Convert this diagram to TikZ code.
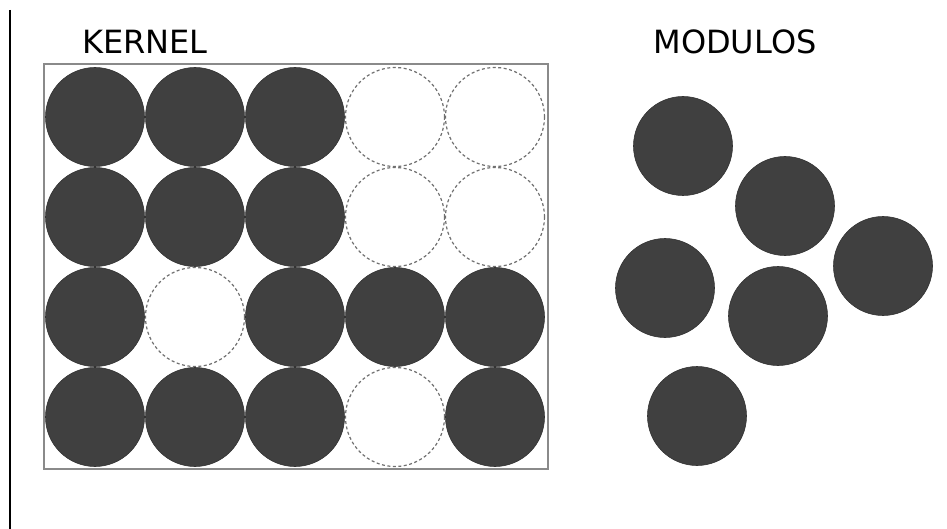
\documentclass[tikz,border=0pt]{standalone}
\usepackage{fontspec}
\setmainfont{DejaVu Sans}
\definecolor{balldark}{HTML}{404040}
\definecolor{framegray}{HTML}{8A8A8A}
\definecolor{dashgray}{HTML}{707070}
\tikzset{
  full/.style={circle, inner sep=0pt, minimum size=99pt, fill=balldark, draw=balldark!80!black, line width=0.6pt},
  empty/.style={circle, inner sep=0pt, minimum size=99pt, draw=dashgray, line width=1.2pt, dash pattern=on 3pt off 2.5pt},
  title/.style={font=\fontsize{32}{37}\selectfont, text=black, inner sep=0pt}
}
\begin{document}
\begin{tikzpicture}[x=1pt,y=-1pt]
\useasboundingbox (0,0) rectangle (947,529);
\draw[black, line width=1.5pt] (10,10) -- (10,529);
\node[title] (kt) at (145,42) {KERNEL};
\node[title] (mt) at (735,42) {MODULOS};
\draw[framegray, line width=1.2pt] (44,64) rectangle (548,469);
% row 1
\node[full] (a1) at (95,117) {};
\node[full] (a2) at (195,117) {};
\node[full] (a3) at (295,117) {};
\node[empty] (a4) at (395,117) {};
\node[empty] (a5) at (495,117) {};
% row 2
\node[full] (b1) at (95,217) {};
\node[full] (b2) at (195,217) {};
\node[full] (b3) at (295,217) {};
\node[empty] (b4) at (395,217) {};
\node[empty] (b5) at (495,217) {};
% row 3
\node[full] (c1) at (95,317) {};
\node[empty] (c2) at (195,317) {};
\node[full] (c3) at (295,317) {};
\node[full] (c4) at (395,317) {};
\node[full] (c5) at (495,317) {};
% row 4
\node[full] (d1) at (95,417) {};
\node[full] (d2) at (195,417) {};
\node[full] (d3) at (295,417) {};
\node[empty] (d4) at (395,417) {};
\node[full] (d5) at (495,417) {};
% modules
\node[full] (m1) at (683,146) {};
\node[full] (m2) at (785,206) {};
\node[full] (m3) at (883,266) {};
\node[full] (m4) at (665,288) {};
\node[full] (m5) at (778,316) {};
\node[full] (m6) at (697,416) {};
\end{tikzpicture}
\end{document}
